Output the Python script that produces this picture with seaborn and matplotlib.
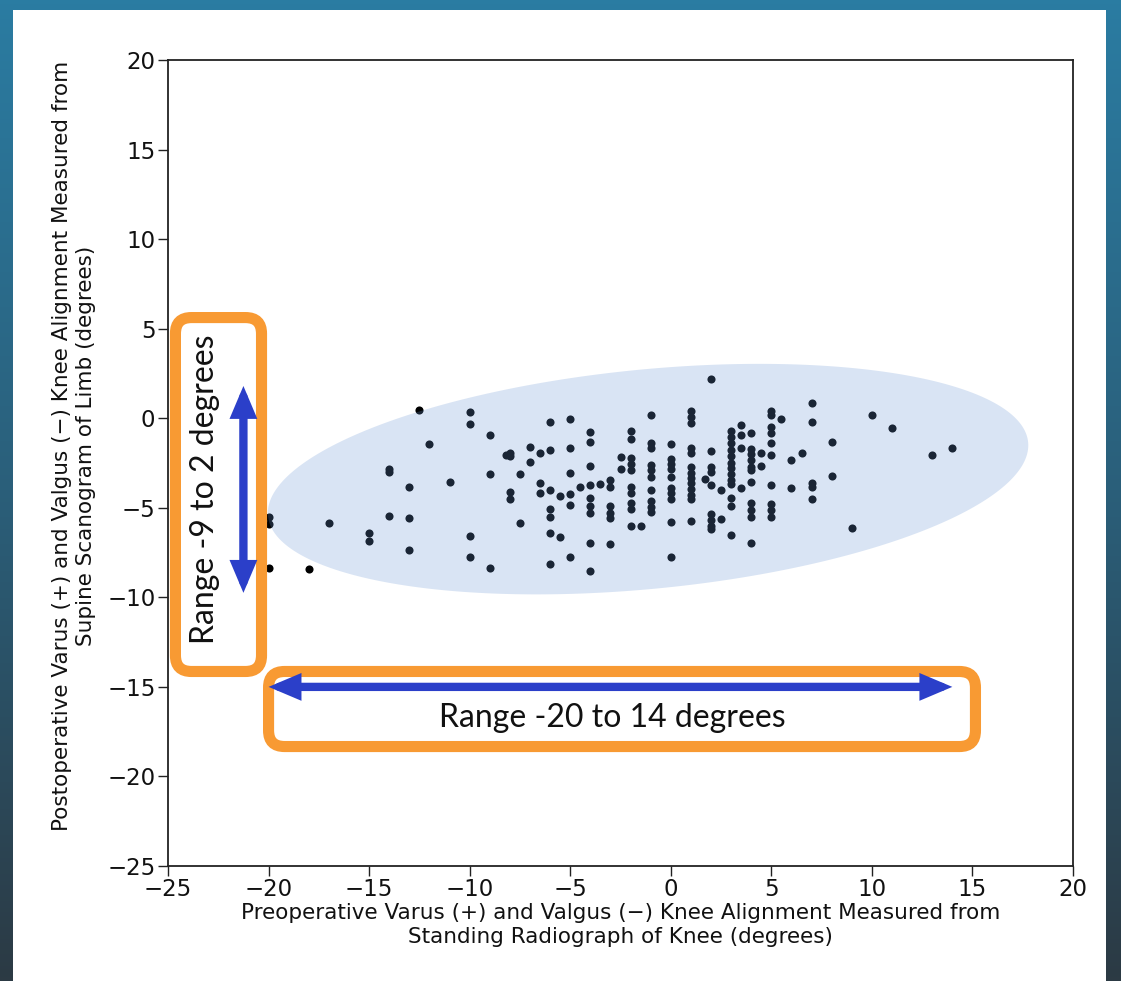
import numpy as np
import pandas as pd
import matplotlib
matplotlib.use("Agg")
import matplotlib.pyplot as plt
import seaborn as sns
from matplotlib.patches import FancyBboxPatch, FancyArrowPatch, Polygon
from matplotlib.transforms import IdentityTransform

# preoperative alignment (standing radiograph), grouped by column
pre = ([-20] * 3 + [-18] + [-17] + [-15] * 2 + [-14] * 3 + [-13] * 3 + [-12.5] + [-12] + [-11]
       + [-10] * 4 + [-9] * 3 + [-8] * 4 + [-8.2] + [-7.5] * 2 + [-7] * 2 + [-6.5] * 3
       + [-6] * 7 + [-5.5] * 2 + [-5] * 6 + [-4.5] + [-4] * 9 + [-3.5] + [-3] * 6 + [-2.5] * 2
       + [-2] * 10 + [-1.5] + [-1] * 10 + [0] * 10 + [1] * 13 + [1.7] + [2] * 9 + [2.5] * 2
       + [3] * 13 + [3.5] * 4 + [4] * 11 + [4.5] * 2 + [5] * 10 + [5.5] + [6] * 2 + [6.5]
       + [7] * 5 + [8] * 2 + [9] + [10] + [11] + [13] + [14])

# postoperative alignment (supine scanogram), same order
post = [-5.5, -5.9, -8.35,
        -8.44,
        -5.83,
        -6.43, -6.84,
        -2.84, -3.0, -5.44,
        -3.84, -5.55, -7.36,
        0.46,
        -1.44,
        -3.54,
        0.35, -0.32, -6.56, -7.73,
        -0.94, -3.13, -8.35,
        -1.95, -2.1, -4.1, -4.53,
        -2.05,
        -3.13, -5.83,
        -1.63, -2.43,
        -1.93, -3.63, -4.16,
        -0.23, -1.78, -4.0, -5.09, -5.5, -6.43, -8.14,
        -4.34, -6.65,
        -0.06, -1.65, -3.04, -4.25, -4.85, -7.73,
        -3.86,
        -0.75, -1.31, -2.65, -3.73, -4.44, -4.9, -5.31, -6.95, -8.53,
        -3.67,
        -3.45, -3.86, -4.9, -5.27, -5.59, -7.02,
        -2.15, -2.84,
        -0.71, -1.18, -2.24, -2.57, -2.89, -3.82, -4.16, -4.75, -5.09, -6.02,
        -6.02,
        0.18, -1.37, -1.68, -2.61, -2.89, -3.27, -4.0, -4.6, -4.94, -5.22,
        -1.44, -2.3, -2.57, -2.85, -3.27, -3.92, -4.2, -4.53, -5.78, -7.77,
        0.42, 0.08, -0.25, -1.68, -1.96, -2.74, -3.08, -3.36, -3.63, -3.97, -4.29, -4.53, -5.74,
        -3.41,
        2.17, -1.83, -2.71, -2.99, -3.73, -5.37, -5.68, -6.02, -6.2,
        -4.0, -5.64,
        -0.7, -1.03, -1.4, -1.78, -2.11, -2.52, -2.8, -3.12, -3.45, -3.67, -4.47, -4.9, -6.52,
        -0.38, -0.94, -1.68, -3.92,
        -0.8, -1.74, -2.0, -2.33, -2.71, -2.89, -3.54, -4.71, -5.13, -5.5, -6.95,
        -1.93, -2.67,
        0.42, 0.18, -0.51, -0.85, -1.4, -2.05, -3.73, -4.79, -5.13, -5.5,
        -0.06,
        -2.33, -3.92,
        -1.96,
        0.87, -0.19, -3.63, -3.82, -4.53,
        -1.31, -3.23,
        -6.15,
        0.18,
        -0.57,
        -2.05,
        -1.65]

df = pd.DataFrame({"pre": pre, "post": post})

# density ellipse: centre and the two half-axis vectors (data units)
ell_center = (-1.13, -3.4)
ell_major = (18.9, 2.05)
ell_minor = (-0.5, 6.1)

# range annotations
range_x = (-20, 14)
range_x_at = -15
range_y = (-9.75, 1.8)
range_y_at = -21.25
box_v = (-24.63, -14.14, -20.35, 5.62)
box_h = (-20.0, -18.33, 15.15, -14.14)
label_h = ("Range -20 to 14 degrees", -2.9, -16.75)
label_v = ("Range -9 to 2 degrees", -23.15, -3.95)

ticks = [-25, -20, -15, -10, -5, 0, 5, 10, 15, 20]
xlabel = ("Preoperative Varus (+) and Valgus (\u2212) Knee Alignment Measured from\n"
          "Standing Radiograph of Knee (degrees)")
ylabel = ("Postoperative Varus (+) and Valgus (\u2212) Knee Alignment Measured from\n"
          "Supine Scanogram of Limb (degrees)")

sns.set_style("white")
plt.rcParams["font.family"] = ["DejaVu Sans"]

W, H = 1121, 981
fig = plt.figure(figsize=(W / 100, H / 100), dpi=100)

# slide background
bg = fig.add_axes([0, 0, 1, 1], zorder=-5)
grad = np.linspace(0, 1, 256)[:, None]
cmap = matplotlib.colors.LinearSegmentedColormap.from_list("slide", ["#2a7ca2", "#2a5f7a", "#2c3a44"])
bg.imshow(grad, aspect="auto", cmap=cmap, extent=[0, W, 0, H], origin="upper")
bg.add_patch(plt.Rectangle((13, 0), 1106 - 13, H - 10, color="white", lw=0))
bg.set_xlim(0, W)
bg.set_ylim(0, H)
bg.axis("off")

ax = fig.add_axes([168 / W, 1 - 866 / H, (1073 - 168) / W, (866 - 60) / H])
ax.set_facecolor("white")

sns.scatterplot(data=df, x="pre", y="post", ax=ax, color="black", s=34,
                linewidth=0, zorder=2, legend=False)

t = np.linspace(0, 2 * np.pi, 300)
ex = ell_center[0] + np.cos(t) * ell_major[0] + np.sin(t) * ell_minor[0]
ey = ell_center[1] + np.cos(t) * ell_major[1] + np.sin(t) * ell_minor[1]
ax.add_patch(Polygon(np.column_stack([ex, ey]), closed=True, facecolor="#6894d4",
                     alpha=0.25, edgecolor="none", zorder=3))

ax.set_xlim(-25, 20)
ax.set_ylim(-25, 20)
ax.set_xticks(ticks)
ax.set_yticks(ticks)
ax.tick_params(direction="out", length=7, width=1, color="#222222", labelsize=16.5,
               labelcolor="#111111", left=True, bottom=True, pad=2)
for sp in ax.spines.values():
    sp.set_visible(True)
    sp.set_color("#222222")
    sp.set_linewidth(1.3)

ax.set_xlabel(xlabel, fontsize=15.5, labelpad=1, color="#111111", linespacing=1.25)
ax.set_ylabel(ylabel, fontsize=15.5, color="#111111", linespacing=1.2)
ax.yaxis.set_label_coords(-0.08, 0.521)

orange = "#f89a33"
blue = "#2b3fc9"


def round_box(x0, y0, x1, y1):
    (px0, py0), (px1, py1) = ax.transData.transform([(x0, y0), (x1, y1)])
    box = FancyBboxPatch((px0, py0), px1 - px0, py1 - py0,
                         boxstyle="round,pad=0,rounding_size=16",
                         transform=IdentityTransform(), facecolor="white",
                         edgecolor=orange, linewidth=8, zorder=5, clip_on=False)
    ax.add_patch(box)


round_box(*box_v)
round_box(*box_h)

for a, b in [((range_x[0], range_x_at), (range_x[1], range_x_at)),
             ((range_y_at, range_y[0]), (range_y_at, range_y[1]))]:
    arr = FancyArrowPatch(a, b, arrowstyle="<|-|>,head_length=1.3,head_width=0.55",
                          mutation_scale=10, color=blue, linewidth=6, shrinkA=0, shrinkB=0,
                          joinstyle="miter", zorder=6, clip_on=False)
    ax.add_patch(arr)

ann_font = ["Lato", "DejaVu Sans"]
ax.text(label_h[1], label_h[2], label_h[0], ha="center", va="center", fontsize=23,
        family=ann_font, color="#111111", zorder=7)
ax.text(label_v[1], label_v[2], label_v[0], rotation=90, ha="center", va="center",
        fontsize=23, family=ann_font, color="#111111", zorder=7)

fig.savefig("out.png", dpi=100)
